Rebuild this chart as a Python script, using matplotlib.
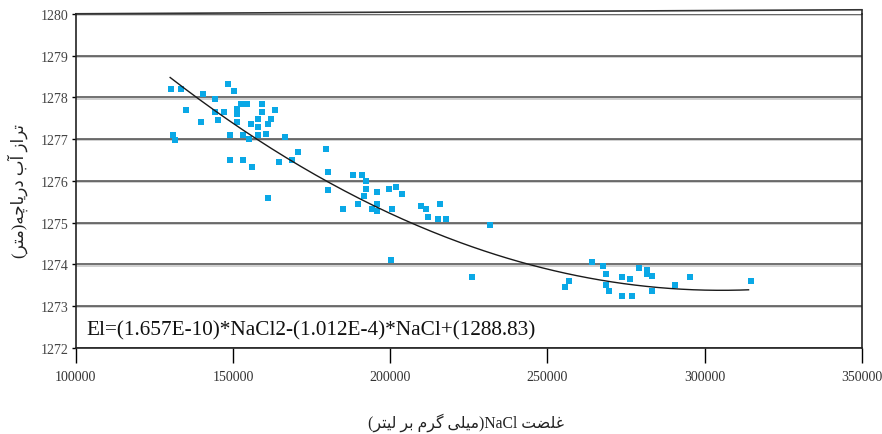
#Lake level vs NaCl concentration

#Importing the libraries
import re
import numpy as np
import matplotlib
matplotlib.use('Agg')
import matplotlib.pyplot as plt
import matplotlib.patheffects as pe

#Data
nacl = [130300, 133450, 148400, 150300, 140400, 144250, 152500, 154400, 159200, 151200,
        135000, 144250, 147100, 151200, 159200, 163300, 157900, 162000, 139800, 145200,
        151200, 155700, 161100, 157900, 130900, 131500, 149000, 153100, 155000, 157900,
        160500, 166500, 149000, 153100, 156000, 164600, 168700, 170600, 179500, 180100,
        180100, 161100, 184900,
        188100, 190900, 192200, 192200, 195700, 199500, 201700, 203700, 191600, 189700,
        195700, 194100, 195700, 200500, 209700, 211300, 215700, 211900, 215100, 217900,
        231900, 200200, 225900,
        264300, 267800, 279300, 281800, 268500, 281800, 283400, 273900, 276400, 295500,
        257000, 314800, 255700, 268500, 290700, 269700, 283400, 273900, 277000]
level = [1278.19, 1278.19, 1278.31, 1278.14, 1278.09, 1277.95, 1277.85, 1277.85, 1277.85, 1277.73,
         1277.69, 1277.64, 1277.64, 1277.59, 1277.64, 1277.69, 1277.49, 1277.49, 1277.42, 1277.45,
         1277.42, 1277.37, 1277.37, 1277.28, 1277.09, 1276.97, 1277.09, 1277.09, 1277.01, 1277.09,
         1277.13, 1277.04, 1276.51, 1276.51, 1276.32, 1276.46, 1276.51, 1276.68, 1276.77, 1276.22,
         1275.79, 1275.60, 1275.33,
         1276.15, 1276.15, 1276.00, 1275.81, 1275.74, 1275.81, 1275.86, 1275.69, 1275.64, 1275.45,
         1275.45, 1275.33, 1275.28, 1275.33, 1275.40, 1275.33, 1275.45, 1275.14, 1275.09, 1275.09,
         1274.95, 1274.11, 1273.70,
         1274.06, 1273.96, 1273.91, 1273.87, 1273.77, 1273.77, 1273.72, 1273.70, 1273.65, 1273.70,
         1273.60, 1273.60, 1273.46, 1273.51, 1273.51, 1273.36, 1273.36, 1273.24, 1273.24]

#Trend line coefficients (as printed on the chart)
coef_a = 1.657e-10
coef_b = -1.012e-4
coef_c = 1288.83
fit_range = [130000, 314000]

x_ticks = [100000, 150000, 200000, 250000, 300000, 350000]
y_ticks = [1272, 1273, 1274, 1275, 1276, 1277, 1278, 1279, 1280]

equation = 'El=(1.657E-10)*NaCl2-(1.012E-4)*NaCl+(1288.83)'
x_title = 'غلضت NaCl(میلی گرم بر لیتر)'
y_title = 'تراز آب دریاچه(متر)'

#Simple Persian shaping (isolated, final, initial, medial)
FORMS = {
    '\u0627': ('\uFE8D', '\uFE8E', None, None),
    '\u0622': ('\uFE81', '\uFE82', None, None),
    '\u0628': ('\uFE8F', '\uFE90', '\uFE91', '\uFE92'),
    '\u062A': ('\uFE95', '\uFE96', '\uFE97', '\uFE98'),
    '\u0686': ('\uFB7A', '\uFB7B', '\uFB7C', '\uFB7D'),
    '\u062F': ('\uFEA9', '\uFEAA', None, None),
    '\u0631': ('\uFEAD', '\uFEAE', None, None),
    '\u0632': ('\uFEAF', '\uFEB0', None, None),
    '\u0636': ('\uFEBD', '\uFEBE', '\uFEBF', '\uFEC0'),
    '\u0638': ('\uFEC5', '\uFEC6', '\uFEC7', '\uFEC8'),
    '\u063A': ('\uFECD', '\uFECE', '\uFECF', '\uFED0'),
    '\u0644': ('\uFEDD', '\uFEDE', '\uFEDF', '\uFEE0'),
    '\u0645': ('\uFEE1', '\uFEE2', '\uFEE3', '\uFEE4'),
    '\u0647': ('\uFEE9', '\uFEEA', '\uFEEB', '\uFEEC'),
    '\u06CC': ('\uFBFC', '\uFBFD', '\uFBFE', '\uFBFF'),
    '\u06AF': ('\uFB92', '\uFB93', '\uFB94', '\uFB95'),
}


def shape(s):
    out = []
    for i, c in enumerate(s):
        if c not in FORMS:
            out.append(c)
            continue
        prev_j = i > 0 and s[i-1] in FORMS and FORMS[s[i-1]][2] is not None
        next_j = (i < len(s) - 1 and s[i+1] in FORMS and FORMS[c][2] is not None)
        f = FORMS[c]
        if prev_j and next_j:
            out.append(f[3])
        elif prev_j:
            out.append(f[1])
        elif next_j:
            out.append(f[2])
        else:
            out.append(f[0])
    return ''.join(out)


def rtl(s):
    runs = [r for r in re.split(r'([A-Za-z0-9]+)', shape(s)) if r]
    vis = []
    for r in reversed(runs):
        if re.fullmatch(r'[A-Za-z0-9]+', r):
            vis.append(r)
        else:
            vis.append(r[::-1].translate(str.maketrans('()', ')(')))
    return ''.join(vis)


serif = ['Liberation Serif', 'DejaVu Sans']
plt.rcParams['font.family'] = serif

fig = plt.figure(figsize=(8.82, 4.35), dpi=100)
ax = fig.add_axes([0.086, 0.198, 0.891, 0.768])

ax.scatter(nacl, level, marker='s', s=19, color='#0AA8E6', linewidths=0, zorder=3)

xf = np.linspace(fit_range[0], fit_range[1], 200)
ax.plot(xf, coef_a * xf**2 + coef_b * xf + coef_c, color='#1a1a1a', lw=1.0, zorder=4)

ax.set_xlim(100000, 350000)
ax.set_ylim(1272, 1280)
ax.set_xticks(x_ticks)
ax.set_yticks(y_ticks)
ax.tick_params(axis='x', direction='out', length=11, width=1, pad=5, labelsize=10,
               labelcolor='#333333')
ax.tick_params(axis='y', direction='out', length=3, width=1, pad=2, labelsize=10,
               labelcolor='#444444')

ax.grid(axis='y', color='#4a4a4a', lw=1.1)
for g in ax.get_ygridlines():
    g.set_path_effects([pe.SimpleLineShadow(offset=(0, -1.0), shadow_color='#c4c4c4', alpha=1),
                        pe.Normal()])
ax.set_axisbelow(True)

for sp in ['left', 'bottom', 'right']:
    ax.spines[sp].set_color('#222222')
    ax.spines[sp].set_linewidth(1.2)
ax.spines['top'].set_visible(False)
ax.plot([0, 1], [1, 1.012], transform=ax.transAxes, color='#333333', lw=1.2, clip_on=False)
ax.plot([1, 1], [1, 1.012], transform=ax.transAxes, color='#333333', lw=1.2, clip_on=False)

ax.text(0.013, 0.055, equation, transform=ax.transAxes, fontsize=15.3, va='center',
        ha='left', color='#111111')

fig.text(466 / 882, 1 - 423 / 435, rtl(x_title), ha='center', va='center', fontsize=11.3,
         family=serif, color='#222222')
fig.text(18 / 882, 1 - 191 / 435, rtl(y_title), ha='center', va='center', fontsize=12,
         rotation=90, family=serif, color='#222222')

plt.savefig('out.png', dpi=100)
